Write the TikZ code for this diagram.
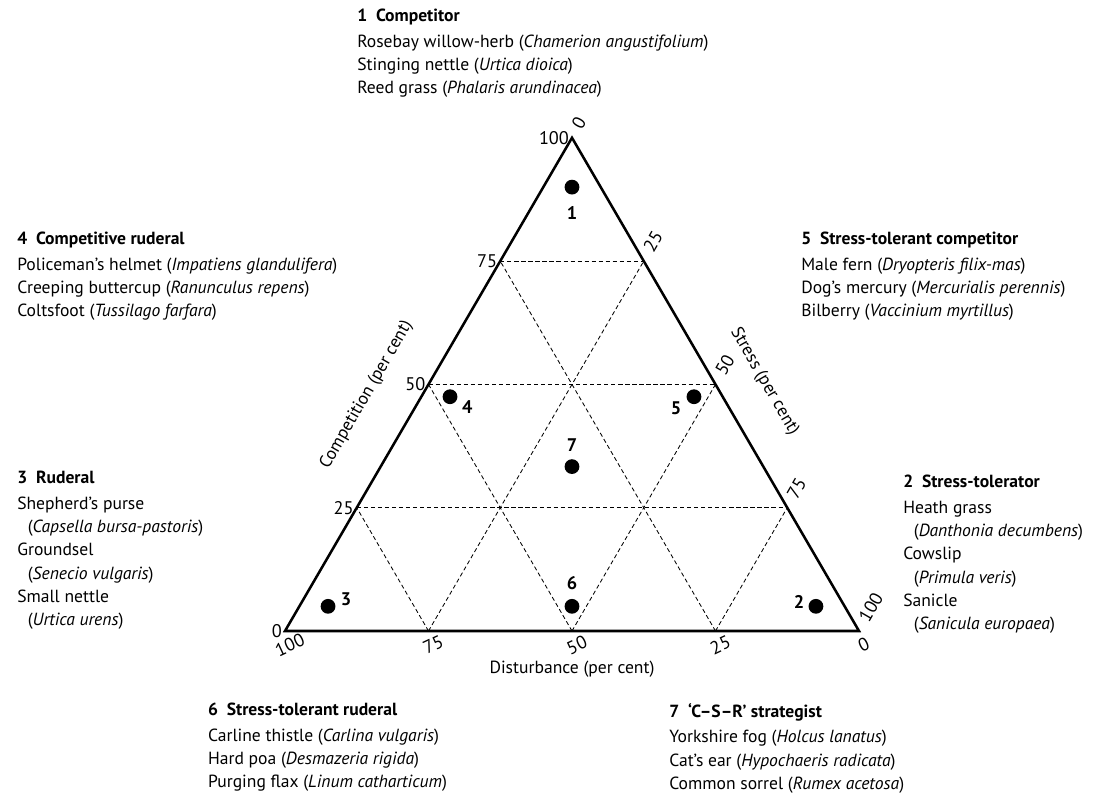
\documentclass[tikz,border=0pt]{standalone}
\usepackage{fontspec}
\setmainfont{PT Sans}
\usetikzlibrary{positioning, calc}
\tikzset{%
  edge/.style = {line width=1.8pt, line join=miter},
  grid/.style = {line width=0.6pt, dash pattern=on 3pt off 2pt},
  dot/.style = {circle, fill=black, inner sep=0pt, minimum size=0.37cm},
  num/.style = {font=\bfseries\fontsize{13}{15}\selectfont, inner sep=1pt},
  tick/.style = {font=\fontsize{13}{15}\selectfont, inner sep=2pt},
  axis/.style = {font=\fontsize{12.5}{15}\selectfont, inner sep=1pt},
  block/.style = {anchor=north west, align=left, inner sep=0pt,
                  font=\fontsize{12.5}{16.6}\selectfont},
}
\newcommand{\head}[2]{\textbf{#1\enspace #2}\\[1.5pt]}
\newcommand{\species}[1]{(\textit{#1})}
\newcommand{\ind}{\hspace*{0.6em}}

\begin{document}
\begin{tikzpicture}
    \useasboundingbox (-7.125,-4.375) rectangle (20.725,15.775);
    \def\side{14.35}

    % corners of the triangle
    \coordinate (dist)   at (0,0);
    \coordinate (stress) at (\side,0);
    \coordinate (comp)   at (\side/2,12.33);

    % dashed grid
    \foreach \f in {0.25,0.5,0.75} {
      \draw[grid] ($(dist)!\f!(comp)$) -- ($(stress)!\f!(comp)$);
      \draw[grid] ($(dist)!\f!(stress)$) -- ($(comp)!\f!(stress)$);
      \draw[grid] ($(stress)!\f!(dist)$) -- ($(comp)!\f!(dist)$);
    }
    \draw[edge] (dist) -- (stress) -- (comp) -- cycle;

    % scales
    \foreach \v/\f in {0/0,25/0.25,50/0.5,75/0.75,100/1}
      \node[tick, anchor=east] (cl\v) at ($(dist)!\f!(comp)$) {\v};
    \foreach \v/\f in {0/0,25/0.25,50/0.5,75/0.75,100/1}
      \node[tick, rotate=60, anchor=west] (sl\v) at ($(comp)!\f!(stress)+(0.07,0.2)$) {\v};
    \foreach \v/\f in {100/0,75/0.25,50/0.5,25/0.75,0/1}
      \node[tick, rotate=25] (dl\v) at ($(dist)!\f!(stress)+(0.12,-0.35)$) {\v};

    \node[axis] (dtitle) at ($(dist)!0.5!(stress)+(0,-0.95)$) {Disturbance (per cent)};
    \node[axis, rotate=60, anchor=west] (ctitle) at ($(dist)!0.28!(comp)+(150:1.2)$) {Competition (per cent)};
    \node[axis, rotate=-60, anchor=west] (stitle) at ($(comp)!0.43!(stress)+(30:1.1)$) {Stress (per cent)};

    % strategies
    \node[dot] (p1) at (barycentric cs:comp=0.9,stress=0.05,dist=0.05) {};
    \node[dot] (p2) at (barycentric cs:comp=0.05,stress=0.9,dist=0.05) {};
    \node[dot] (p3) at (barycentric cs:comp=0.05,stress=0.05,dist=0.9) {};
    \node[dot] (p4) at (barycentric cs:comp=0.475,stress=0.05,dist=0.475) {};
    \node[dot] (p5) at (barycentric cs:comp=0.475,stress=0.475,dist=0.05) {};
    \node[dot] (p6) at (barycentric cs:comp=0.05,stress=0.475,dist=0.475) {};
    \node[dot] (p7) at (barycentric cs:comp=0.333,stress=0.333,dist=0.333) {};

    \node[num] (n1) at ($(p1)+(0,-0.65)$) {1};
    \node[num] (n2) at ($(p2)+(-0.42,0.12)$) {2};
    \node[num] (n3) at ($(p3)+(0.45,0.17)$) {3};
    \node[num] (n4) at ($(p4)+(0.43,-0.27)$) {4};
    \node[num] (n5) at ($(p5)+(-0.45,-0.28)$) {5};
    \node[num] (n6) at ($(p6)+(0,0.57)$) {6};
    \node[num] (n7) at ($(p7)+(0,0.53)$) {7};

    % species lists
    \node[block] (b1) at (1.8,15.55) {\head{1}{Competitor}
      Rosebay willow-herb \species{Chamerion angustifolium}\\
      Stinging nettle \species{Urtica dioica}\\
      Reed grass \species{Phalaris arundinacea}};
    \node[block] (b4) at (-6.7,9.98) {\head{4}{Competitive ruderal}
      Policeman’s helmet \species{Impatiens glandulifera}\\
      Creeping buttercup \species{Ranunculus repens}\\
      Coltsfoot \species{Tussilago farfara}};
    \node[block] (b5) at (12.9,9.98) {\head{5}{Stress-tolerant competitor}
      Male fern \species{Dryopteris filix-mas}\\
      Dog’s mercury \species{Mercurialis perennis}\\
      Bilberry \species{Vaccinium myrtillus}};
    \node[block] (b3) at (-6.7,4.0) {\head{3}{Ruderal}
      Shepherd’s purse\\
      \ind\species{Capsella bursa-pastoris}\\
      Groundsel\\
      \ind\species{Senecio vulgaris}\\
      Small nettle\\
      \ind\species{Urtica urens}};
    \node[block] (b2) at (15.45,3.9) {\head{2}{Stress-tolerator}
      Heath grass\\
      \ind\species{Danthonia decumbens}\\
      Cowslip\\
      \ind\species{Primula veris}\\
      Sanicle\\
      \ind\species{Sanicula europaea}};
    \node[block] (b6) at (-1.93,-1.8) {\head{6}{Stress-tolerant ruderal}
      Carline thistle \species{Carlina vulgaris}\\
      Hard poa \species{Desmazeria rigida}\\
      Purging flax \species{Linum catharticum}};
    \node[block] (b7) at (9.6,-1.8) {\head{7}{‘C–S–R’ strategist}
      Yorkshire fog \species{Holcus lanatus}\\
      Cat’s ear \species{Hypochaeris radicata}\\
      Common sorrel \species{Rumex acetosa}};
\end{tikzpicture}
\end{document}
